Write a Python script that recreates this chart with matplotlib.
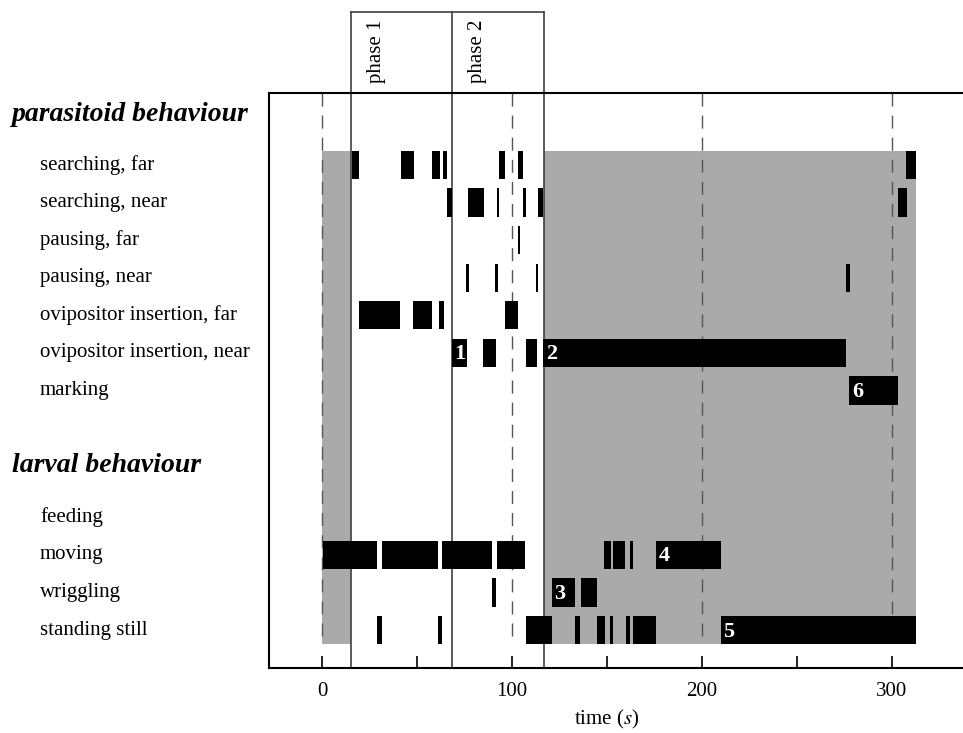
import matplotlib
matplotlib.use("Agg")
import matplotlib.pyplot as plt
import matplotlib.transforms as mtransforms

plt.rcParams.update(
    {
        "font.family": "Liberation Serif",
        "font.size": 15,
        "mathtext.fontset": "stix",
    }
)

parasitoid_labels = [
    "searching, far",
    "searching, near",
    "pausing, far",
    "pausing, near",
    "ovipositor insertion, far",
    "ovipositor insertion, near",
    "marking",
]
larval_labels = ["feeding", "moving", "wriggling", "standing still"]

# behavioural bouts as (start, end) in seconds
searching_far = [(15.6, 19.6), (41.4, 48.4), (57.9, 62.1), (63.9, 65.6),
                 (93.0, 96.3), (103.3, 106.0), (307.5, 312.6)]
searching_near = [(65.6, 68.2), (77.0, 85.3), (91.9, 93.2), (105.6, 107.4),
                  (113.7, 116.5), (303.0, 307.7)]
pausing_far = [(103.0, 104.4)]
pausing_near = [(75.8, 77.2), (91.0, 92.5), (112.5, 113.8), (276.0, 278.0)]
insertion_far = [(19.5, 41.1), (48.1, 57.7), (61.8, 64.2), (96.1, 103.3)]
insertion_near = [(68.2, 76.1), (84.6, 91.4), (107.2, 113.0), (116.5, 275.8)]
marking = [(277.6, 303.3)]
feeding = []
moving = [(0.3, 28.8), (31.4, 60.9), (63.3, 89.6), (91.9, 106.8),
          (148.4, 151.9), (153.3, 159.6), (162.1, 163.9), (175.8, 209.8)]
wriggling = [(89.6, 91.6), (120.9, 133.2), (136.2, 144.6)]
standing_still = [(29.1, 31.4), (60.9, 63.2), (107.2, 120.9), (133.2, 135.8),
                  (144.9, 148.9), (151.6, 153.3), (159.8, 162.1), (163.9, 175.8),
                  (209.8, 312.6)]

parasitoid_bouts = [searching_far, searching_near, pausing_far, pausing_near,
                    insertion_far, insertion_near, marking]
larval_bouts = [feeding, moving, wriggling, standing_still]

# numbered bouts: (behaviour, start of bout, number)
numbered = [
    ("ovipositor insertion, near", 68.2, "1"),
    ("ovipositor insertion, near", 116.5, "2"),
    ("wriggling", 120.9, "3"),
    ("moving", 175.8, "4"),
    ("standing still", 209.8, "5"),
    ("marking", 277.6, "6"),
]

phase_bounds = [15.3, 68.4, 116.8]
phase_names = ["phase 1", "phase 2"]
grey_periods = [(0.0, 15.3), (116.8, 312.6)]

# row layout
rows = {lab: i for i, lab in enumerate(parasitoid_labels)}
rows.update({lab: 9.37 + j for j, lab in enumerate(larval_labels)})
half = 0.375
ytop, ybot = -1.915, 13.38
yfig_top = -4.07

fig = plt.figure(figsize=(9.63, 7.33), dpi=100)
ax = fig.add_axes([269 / 963, 1 - 668 / 733, 1 - 269 / 963, (668 - 93) / 733])
ax.set_xlim(-27.9, 337.4)
ax.set_ylim(ybot, ytop)

grey_top = -half
grey_bot = rows["standing still"] + half
for a, b in grey_periods:
    ax.fill_between([a, b], grey_top, grey_bot, color="#aaaaaa", lw=0, zorder=0)

ax.vlines([0, 100, 200, 300], ytop, grey_bot, colors="#555555",
          linestyles=(0, (9.4, 6.5)), lw=1, zorder=1)

for b in phase_bounds:
    ax.plot([b, b], [yfig_top, ybot], color="#404040", lw=1.2,
            clip_on=False, zorder=2)
ax.plot([phase_bounds[0], phase_bounds[-1]], [yfig_top, yfig_top],
        color="#404040", lw=1.2, clip_on=False, zorder=2)
for i, name in enumerate(phase_names):
    ax.text(phase_bounds[i] + 13.2, -3.86, name, rotation=90, ha="center",
            va="top", fontsize=15, clip_on=False)

for labels, bouts in [(parasitoid_labels, parasitoid_bouts),
                      (larval_labels, larval_bouts)]:
    for lab, bout in zip(labels, bouts):
        if not bout:
            continue
        ax.broken_barh([(s, e - s) for s, e in bout],
                       (rows[lab] - half, 2 * half),
                       facecolors="black", edgecolor="none", zorder=3)

for lab, start, num in numbered:
    ax.text(start + 1.5, rows[lab] + 0.04, num, color="white",
            fontweight="bold", fontsize=16, ha="left", va="center", zorder=4)

trans = mtransforms.blended_transform_factory(fig.transFigure, ax.transData)
for lab in parasitoid_labels + larval_labels:
    fig.text(40 / 963, rows[lab], lab, transform=trans, ha="left",
             va="center", fontsize=15)
fig.text(12 / 963, -1.33, "parasitoid behaviour", transform=trans,
         ha="left", va="center", fontsize=20, fontweight="bold", style="italic")
fig.text(12 / 963, 8.0, "larval behaviour", transform=trans,
         ha="left", va="center", fontsize=20, fontweight="bold", style="italic")

ax.set_yticks([])
ax.set_xticks([0, 100, 200, 300])
ax.set_xticks([50, 150, 250], minor=True)
ax.tick_params(axis="x", which="both", direction="in", length=9, width=1.2,
               pad=10, labelsize=15)
ax.spines["right"].set_visible(False)
for s in ["top", "left", "bottom"]:
    ax.spines[s].set_linewidth(1.5)

ax.set_xlabel("time ($s$)", fontsize=15)
ax.xaxis.set_label_coords((607 - 269) / 694, -0.07)

fig.savefig("out.png", dpi=100)
